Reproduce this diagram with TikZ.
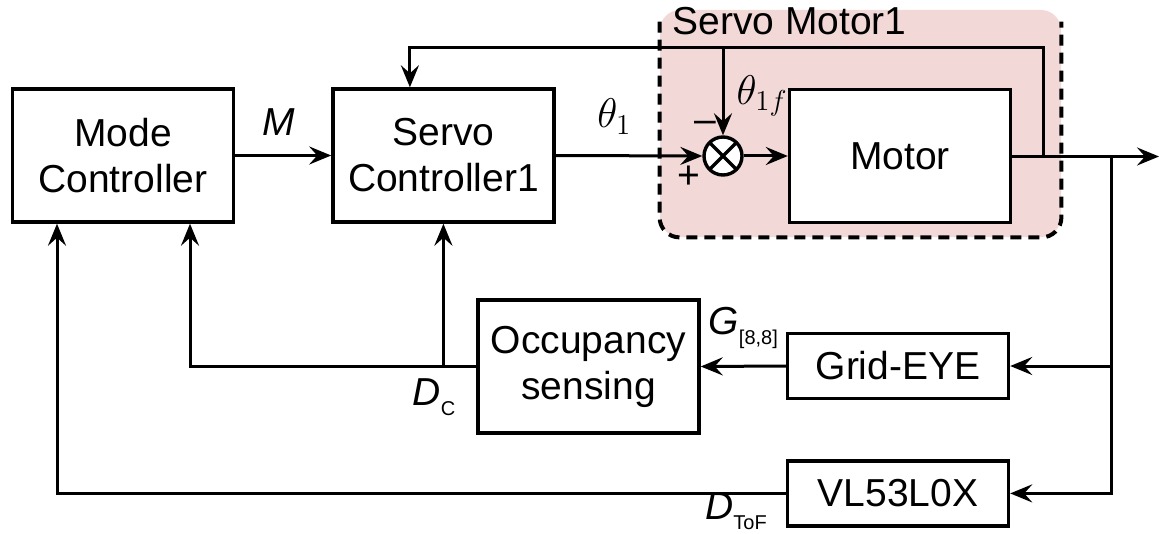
\documentclass[tikz,border=0pt]{standalone}
\usepackage{fontspec}
\setmainfont{Liberation Sans}
\usetikzlibrary{arrows.meta, positioning}
\definecolor{ServoPink}{RGB}{243,216,216}

\begin{document}
\begin{tikzpicture}[x=0.5pt, y=-0.5pt, font=\fontsize{19.5}{23}\selectfont,
	bloque/.style={rectangle, draw, line width=1.7pt, fill=white, align=center,
		inner sep=0pt, minimum width=110.5pt, minimum height=66.5pt},
	sensor/.style={bloque, minimum height=32.5pt},
	suma/.style={circle, draw, line width=1.7pt, fill=white, minimum size=19pt, inner sep=0pt,
		path picture={\draw[line width=1.7pt] (path picture bounding box.north west) -- (path picture bounding box.south east)
			(path picture bounding box.north east) -- (path picture bounding box.south west);}},
	grupo/.style={fill=ServoPink, rounded corners=10pt, minimum width=200.5pt, minimum height=113.5pt},
	borde/.style={dashed, dash pattern=on 5.5pt off 3.5pt, line width=2pt, rounded corners=10pt},
	flecha/.style={-{Stealth[length=11pt,width=9pt,inset=4pt]}, line width=1.5pt},
	etiq/.style={inner sep=0pt}]
	\useasboundingbox (0,0) rectangle (1159,534);
	% servo motor group (top edge not drawn)
	\node[grupo] (servomotor) at (860.5,123.5) {};
	\draw[borde] ([yshift=-6pt]servomotor.north west) -- (servomotor.south west)
		-- (servomotor.south east) -- ([yshift=-6pt]servomotor.north east);
	\node[etiq, anchor=base west] (lblservo) at (672,35) {Servo Motor1};
	% blocks
	\node[bloque] (mode) at (123,155.5) {Mode\\Controller};
	\node[bloque, right=48pt of mode] (servo) {Servo\\Controller1};
	\node[suma] (sum) at (723,156) {};
	\node[bloque] (motor) at (900,156) {Motor};
	\node[bloque] (occ) at (588.5,366.5) {Occupancy\\sensing};
	\node[sensor] (grid) at (898,366) {Grid-EYE};
	\node[sensor, below=29.5pt of grid] (vl) {VL53L0X};
	\coordinate (out) at (1159,156.5);
	\coordinate (tap) at (1043,156.5);
	\coordinate (br) at (1111,156.5);
	\coordinate (fbtop) at (1043,48);
	% forward path
	\draw[flecha] (mode) -- (servo) node[etiq, pos=0.45, above=9pt] (lblM) {\textit{M}};
	\draw[flecha] (servo.east) -- (sum.west) node[etiq, pos=0.4, above=10pt] (lbltheta) {$\theta_1$};
	\draw[flecha] (sum) -- (motor);
	\draw[flecha] (motor.east |- out) -- (out);
	\node[etiq] (plus) at (689,177) {+};
	\node[etiq] (minus) at (705,127) {--};
	% feedback
	\draw[flecha] (tap) -- (fbtop) -| ([xshift=-16.75pt]servo.north);
	\draw[flecha] (sum.north |- fbtop) -- (sum.north) node[etiq, pos=0.55, right=6pt] (lblthetaf) {$\theta_{1f}$};
	% sensors
	\draw[flecha] (br) |- (vl.east);
	\draw[flecha] (br |- grid.east) -- (grid.east);
	\draw[flecha] (grid.west) -- (occ.east) node[etiq, midway, above=8pt] (lblG) {\textit{G}\raisebox{-0.5ex}{\fontsize{10}{12}\selectfont[8,8]}};
	\draw[flecha] (occ.west) -| ([xshift=33.5pt]mode.south);
	\draw[flecha] (servo.south |- occ.west) -- (servo.south);
	\draw[flecha] (vl.west) -| ([xshift=-33pt]mode.south);
	\node[etiq] (lblDc) at (434,397) {\textit{D}\raisebox{-0.5ex}{\fontsize{10}{12}\selectfont C}};
	\node[etiq] (lblDtof) at (736,511) {\textit{D}\raisebox{-0.5ex}{\fontsize{10}{12}\selectfont ToF}};
\end{tikzpicture}
\end{document}
